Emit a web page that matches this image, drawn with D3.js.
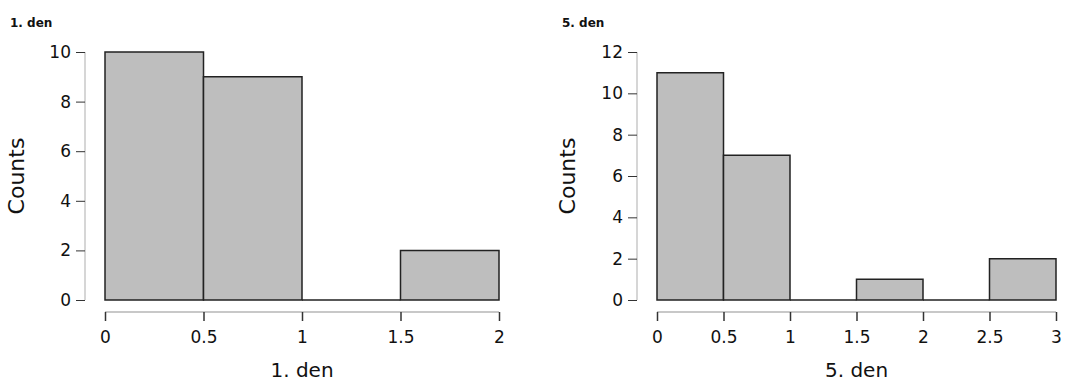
<!DOCTYPE html>
<html>
<head>
<meta charset="utf-8">
<script src="https://cdn.jsdelivr.net/npm/d3@7"></script>
<style>
  body { margin: 0; background: #fff; }
  svg text { font-family: "DejaVu Sans", sans-serif; fill: #111; }
</style>
</head>
<body>
<div id="chart"></div>
<script>
// data
var titles = ['1. den', '5. den']
var binEdges1 = [0, 0.5, 1, 1.5, 2]
var counts1 = [10, 9, 0, 2]
var xTicks1 = [0, 0.5, 1, 1.5, 2]
var yTicks1 = [0, 2, 4, 6, 8, 10]

var binEdges5 = [0, 0.5, 1, 1.5, 2, 2.5, 3]
var counts5 = [11, 7, 0, 1, 0, 2]
var xTicks5 = [0, 0.5, 1, 1.5, 2, 2.5, 3]
var yTicks5 = [0, 2, 4, 6, 8, 10, 12]

var width = 1075
var height = 381

var svg = d3.select('#chart').append('svg')
  .attr('width', width).attr('height', height)

var panels = [
  { title: titles[0], edges: binEdges1, counts: counts1, xt: xTicks1, yt: yTicks1,
    ox: 0, yAxisX: 85, x0: 105, x1: 499, titleX: 10, countsX: 24 },
  { title: titles[1], edges: binEdges5, counts: counts5, xt: xTicks5, yt: yTicks5,
    ox: 540, yAxisX: 97, x0: 117, x1: 516, titleX: 22, countsX: 35 }
]

var fmt = d => String(d)

panels.forEach(p => {
  var g = svg.append('g').attr('transform', `translate(${p.ox},0)`)

  var x = d3.scaleLinear().domain([p.edges[0], p.edges[p.edges.length - 1]]).range([p.x0, p.x1])
  var y = d3.scaleLinear().domain([0, d3.max(p.yt)]).range([300, 52])

  var bins = p.counts.map((c, i) => ({ lo: p.edges[i], hi: p.edges[i + 1], n: c }))

  // title
  g.append('text')
    .attr('x', p.titleX).attr('y', 27)
    .attr('font-size', '12px').attr('font-weight', 'bold')
    .text(p.title)

  // y axis
  var yAxis = g.append('g')
    .attr('transform', `translate(${p.yAxisX},0)`)
    .call(d3.axisLeft(y).tickValues(p.yt).tickFormat(fmt).tickSize(9).tickPadding(5))
  yAxis.select('.domain').attr('d', `M0,${y(0)}V${y(d3.max(p.yt))}`).attr('stroke', '#c8c8c8').attr('stroke-width', 1.5)
  yAxis.selectAll('.tick line').attr('stroke', '#333').attr('stroke-width', 1)
  yAxis.selectAll('.tick text').attr('font-size', '17px').style('fill', '#111')

  // x axis
  var xAxis = g.append('g')
    .attr('transform', 'translate(0,312)')
    .call(d3.axisBottom(x).tickValues(p.xt).tickFormat(fmt).tickSize(0).tickPadding(19))
  xAxis.select('.domain').attr('d', `M${p.x0},0H${p.x1}`).attr('stroke', '#c8c8c8').attr('stroke-width', 2)
  xAxis.selectAll('.tick line').attr('y1', 0).attr('y2', 9).attr('stroke', '#333').attr('stroke-width', 1.5)
  xAxis.selectAll('.tick text').attr('font-size', '17px').style('fill', '#111')

  // bars (paths so empty bins still show their baseline edge)
  g.selectAll('path.bar').data(bins).enter().append('path')
    .attr('class', 'bar')
    .attr('d', d => `M${x(d.lo)},${y(0)}V${y(d.n)}H${x(d.hi)}V${y(0)}Z`)
    .attr('fill', '#bebebe')
    .attr('stroke', '#222')
    .attr('stroke-width', 1.5)

  // axis titles
  g.append('text')
    .attr('text-anchor', 'middle')
    .attr('x', (p.x0 + p.x1) / 2).attr('y', 377)
    .attr('font-size', '20px')
    .text(p.title)

  g.append('text')
    .attr('text-anchor', 'middle')
    .attr('transform', `translate(${p.countsX},176) rotate(-90)`)
    .attr('font-size', '22px')
    .text('Counts')
})
</script>
</body>
</html>
